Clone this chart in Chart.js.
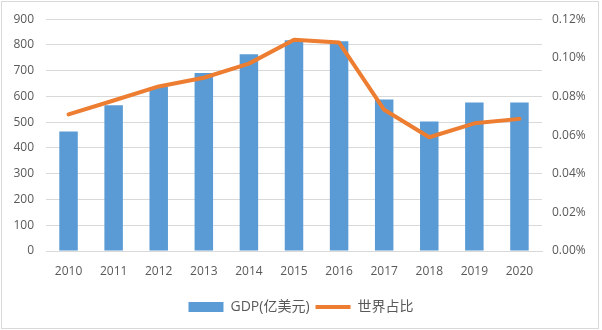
<!DOCTYPE html>
<html>
<head>
<meta charset="utf-8">
<script src="https://cdn.jsdelivr.net/npm/chart.js@4/dist/chart.umd.min.js"></script>
<style>
  html, body { margin: 0; padding: 0; background: #fff; }
  #wrap { position: absolute; left: 0; top: 0; width: 602px; height: 330px; }
  #frame { position: absolute; left: 1px; top: 1px; width: 598px; height: 328px;
           box-sizing: border-box; border: 1px solid #d9d9d9; pointer-events: none; }
</style>
</head>
<body>
<div id="wrap"><canvas id="chart" width="602" height="330"></canvas></div>
<div id="frame"></div>
<script>
const years = ['2010', '2011', '2012', '2013', '2014', '2015', '2016', '2017', '2018', '2019', '2020'];
const gdp = [464, 566, 637, 691, 764, 818, 814, 588, 503, 577, 577];
const worldShare = [0.0707, 0.0779, 0.0852, 0.0897, 0.0970, 0.1094, 0.1079, 0.0731, 0.0589, 0.0661, 0.0684]; // percent
const gdpLabel = 'GDP(亿美元)';
const shareLabel = '世界占比';

const BLUE = '#5b9bd5';
const ORANGE = '#ed7d31';
const TEXT = '#595959';
const GRID = '#d9d9d9';
const FONT = "'Open Sans', 'Noto Sans CJK SC', sans-serif";

Chart.defaults.font.family = FONT;
Chart.defaults.font.size = 12;
Chart.defaults.color = TEXT;

new Chart(document.getElementById('chart'), {
    type: 'bar',
    data: {
        labels: years,
        datasets: [{
            type: 'line',
            label: shareLabel,
            data: worldShare,
            yAxisID: 'y1',
            borderColor: ORANGE,
            backgroundColor: ORANGE,
            borderWidth: 4,
            pointRadius: 0,
            tension: 0,
            borderJoinStyle: 'round',
            borderCapStyle: 'round',
            order: 0
        }, {
            type: 'bar',
            label: gdpLabel,
            data: gdp,
            yAxisID: 'y',
            backgroundColor: BLUE,
            barPercentage: 0.41,
            categoryPercentage: 1,
            order: 1
        }]
    },
    options: {
        responsive: false,
        animation: false,
        layout: { padding: { top: 19, bottom: 6, left: 0, right: 0 } },
        plugins: {
            tooltip: { enabled: false },
            legend: {
                position: 'bottom',
                labels: {
                    usePointStyle: true,
                    boxHeight: 10,
                    pointStyleWidth: 35,
                    padding: 6,
                    color: TEXT,
                    font: { size: 14 },
                    generateLabels: () => [
                        { text: gdpLabel, fillStyle: BLUE, strokeStyle: BLUE, lineWidth: 0,
                          pointStyle: 'rect', datasetIndex: 1, fontColor: TEXT },
                        { text: shareLabel, fillStyle: ORANGE, strokeStyle: ORANGE, lineWidth: 4,
                          pointStyle: 'line', datasetIndex: 0, fontColor: TEXT }
                    ]
                }
            }
        },
        scales: {
            x: {
                grid: { display: false, drawTicks: false },
                border: { display: true, color: GRID, width: 1 },
                ticks: { padding: 13, color: TEXT },
                afterFit: s => { s.height = 43; }
            },
            y: {
                position: 'left',
                min: 0,
                max: 900,
                ticks: { stepSize: 100, padding: 12, color: TEXT },
                grid: { color: GRID, drawTicks: false },
                border: { display: false },
                afterFit: s => { s.width = 46; }
            },
            y1: {
                position: 'right',
                min: 0,
                max: 0.12,
                ticks: {
                    stepSize: 0.02,
                    padding: 10,
                    color: TEXT,
                    callback: v => v.toFixed(2) + '%'
                },
                grid: { drawOnChartArea: false, drawTicks: false },
                border: { display: false },
                afterFit: s => { s.width = 60; }
            }
        }
    }
});
</script>
</body>
</html>
